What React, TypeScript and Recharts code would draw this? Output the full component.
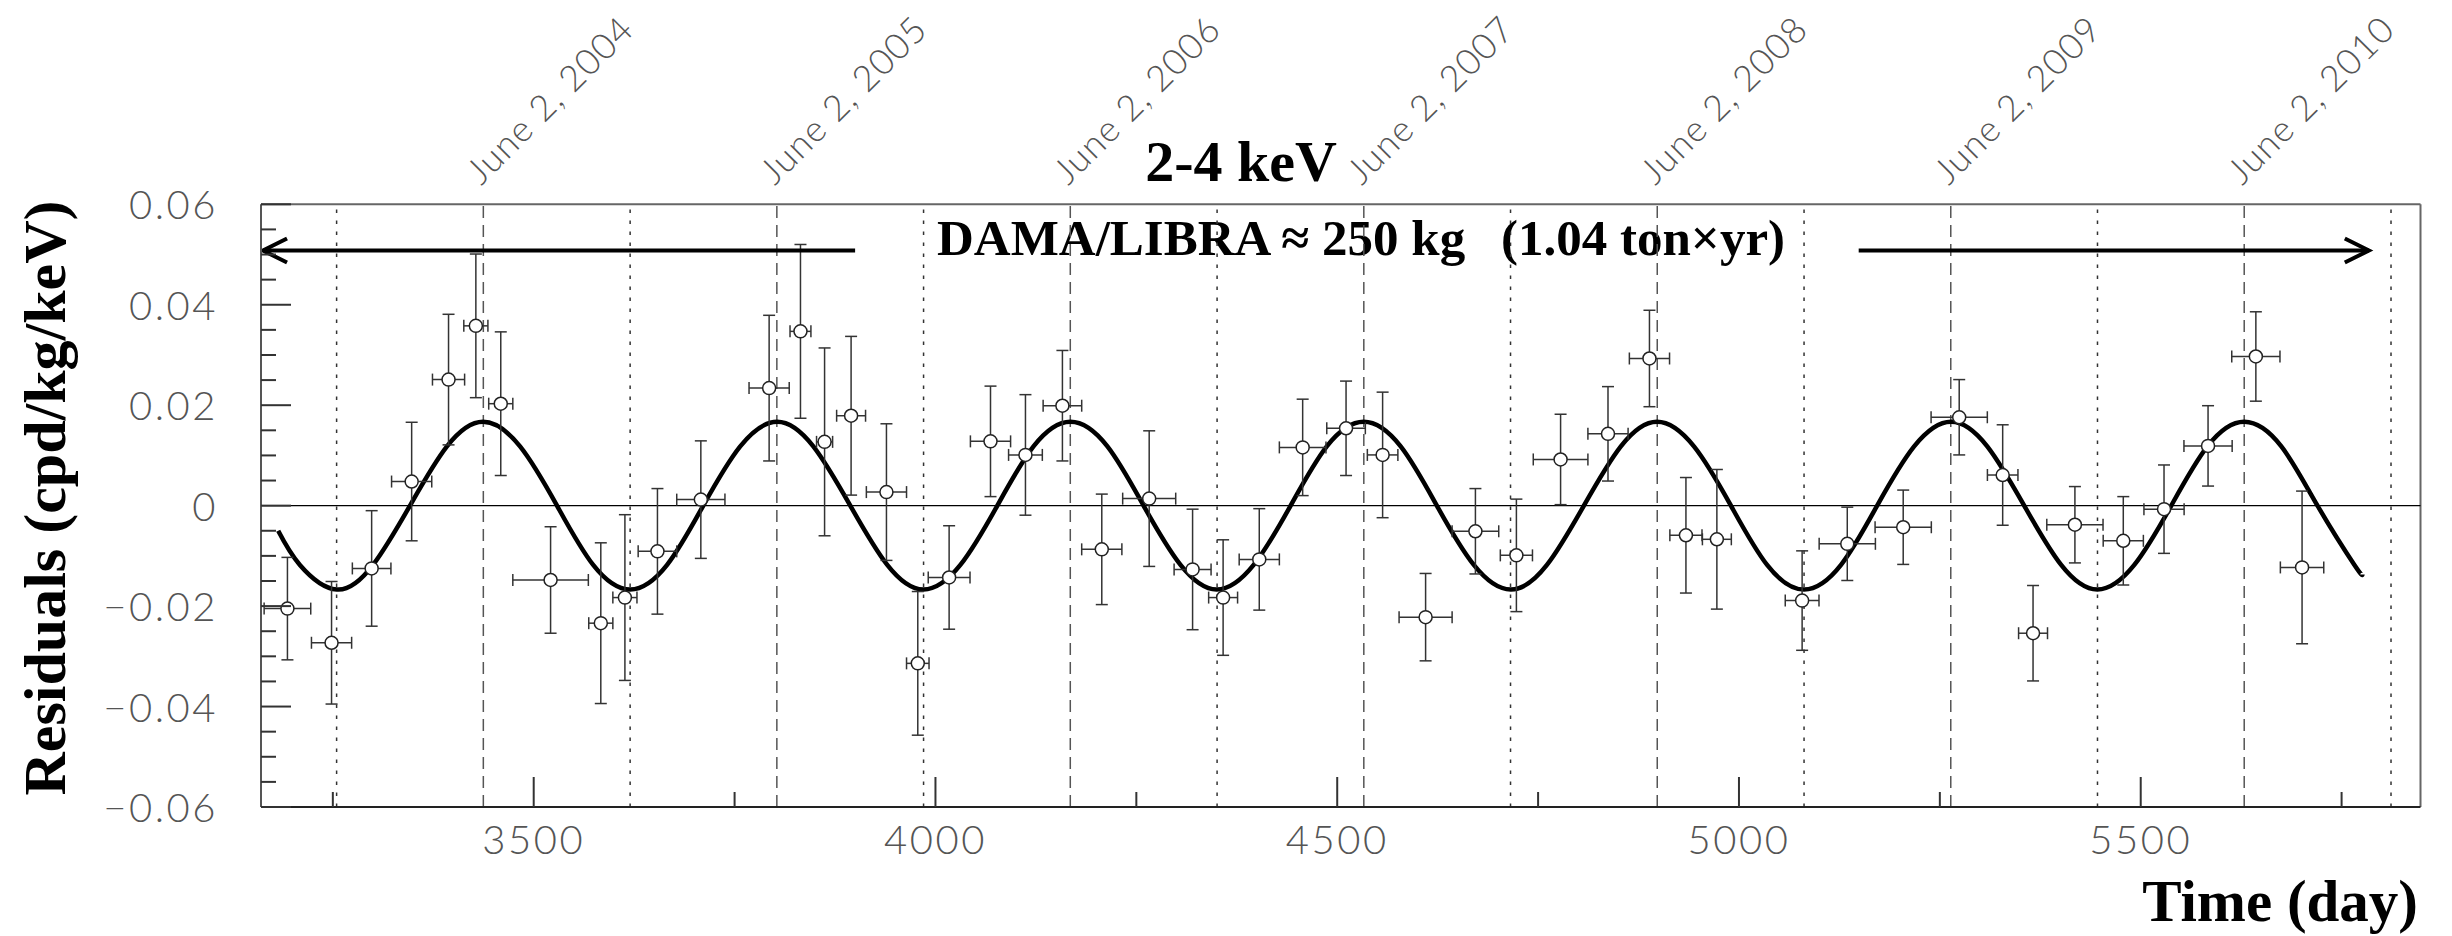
import React from 'react';
import {
  ComposedChart,
  XAxis,
  YAxis,
  Scatter,
  Line,
  ErrorBar,
  ReferenceLine,
  Customized,
} from 'recharts';

// ---------- data ----------
const days = [
  3193.5, 3248.4, 3298.3, 3348.1, 3394, 3428, 3459, 3521, 3583.5, 3613.5, 3654, 3708, 3793, 3832,
  3862, 3895, 3939, 3978, 4017, 4068.5, 4112, 4158, 4207, 4266, 4320, 4358, 4403, 4457, 4511,
  4556.5, 4610, 4672, 4723, 4778, 4837,
  4888.6, 4934, 4972.5, 5078.6, 5134.8, 5204.4, 5274.1, 5328.2, 5366, 5418.1, 5478.3, 5529,
  5583.8, 5643.3, 5700.8,
];
const residuals = [
  -0.0205, -0.0273, -0.0125, 0.0048, 0.0251, 0.0358, 0.0203, -0.0148, -0.0234, -0.0183, -0.0091,
  0.0012, 0.0234, 0.0347,
  0.0127, 0.0179, 0.0027, -0.0314, -0.0143, 0.0128, 0.0101, 0.0199, -0.0087, 0.0014, -0.0127,
  -0.0183, -0.0107, 0.0116, 0.0154, 0.0101, -0.0222, -0.0051, -0.0099, 0.0092, 0.0143,
  0.0293, -0.0059, -0.0067, -0.0189, -0.0076, -0.0043, 0.0176, 0.0061, -0.0254, -0.0038, -0.007,
  -0.0007, 0.0119, 0.0297, -0.0123,
];
const dayErrors = [
  29, 25, 24, 25, 20, 15, 15, 47, 15, 15, 24, 30, 25, 13,
  10, 18, 25, 14, 26, 25, 21, 24, 25, 33, 23, 18, 25, 29, 24, 19, 33, 29, 20, 34, 25,
  25, 20, 18, 21, 35, 35, 35, 19, 18, 35, 25, 25, 30, 30, 27,
];
const residualErrors = [
  0.0102, 0.0122, 0.0115, 0.0118, 0.013, 0.0143, 0.0143, 0.0106, 0.016, 0.0165, 0.0125, 0.0117,
  0.0145, 0.0173,
  0.0187, 0.0158, 0.0136, 0.0143, 0.0103, 0.011, 0.012, 0.011, 0.011, 0.0135, 0.012, 0.0115,
  0.0101, 0.0096, 0.0094, 0.0125, 0.0087, 0.0085, 0.0112, 0.009, 0.0094,
  0.0096, 0.0115, 0.0139, 0.0099, 0.0073, 0.0074, 0.0075, 0.01, 0.0095, 0.0076, 0.0088, 0.0088,
  0.008, 0.0089, 0.0152,
];

// fitted modulation curve
const fitDays = [
  3182, 3209, 3255, 3300, 3346, 3392, 3437, 3483, 3529, 3574, 3620, 3666, 3711, 3757, 3803, 3848,
  3894, 3940, 3985, 4031, 4077, 4122, 4168, 4214, 4259, 4305, 4350, 4396, 4442, 4487, 4533, 4579,
  4624, 4670, 4716, 4761, 4807, 4853, 4898, 4944, 4990, 5035, 5081, 5127, 5172, 5218, 5264, 5309,
  5355, 5401, 5446, 5492, 5538, 5583, 5629, 5675, 5720, 5766, 5776,
];
const fitValues = [
  -0.005, -0.0118, -0.0167, -0.0118, 0, 0.0118, 0.0167, 0.0118, 0, -0.0118, -0.0167, -0.0118, 0,
  0.0118, 0.0167, 0.0118, 0, -0.0118, -0.0167, -0.0118, 0, 0.0118, 0.0167, 0.0118, 0, -0.0118,
  -0.0167, -0.0118, 0, 0.0118, 0.0167, 0.0118, 0, -0.0118, -0.0167, -0.0118, 0, 0.0118, 0.0167,
  0.0118, 0, -0.0118, -0.0167, -0.0118, 0, 0.0118, 0.0167, 0.0118, 0, -0.0118, -0.0167, -0.0118,
  0, 0.0118, 0.0167, 0.0118, 0, -0.0118, -0.0137,
];

const juneDays = [3437.3, 3802.6, 4167.8, 4533.1, 4898.3, 5263.6, 5628.8];
const juneLabels = [
  'June 2, 2004', 'June 2, 2005', 'June 2, 2006', 'June 2, 2007', 'June 2, 2008', 'June 2, 2009',
  'June 2, 2010',
];
const decemberDays = [3254.7, 3620, 3985.2, 4350.5, 4715.7, 5081, 5446.2, 5811.5];

const xTicks = [3250, 3500, 3750, 4000, 4250, 4500, 4750, 5000, 5250, 5500, 5750];
const yTicks = [
  -0.06, -0.055, -0.05, -0.045, -0.04, -0.035, -0.03, -0.025, -0.02, -0.015, -0.01, -0.005, 0,
  0.005, 0.01, 0.015, 0.02, 0.025, 0.03, 0.035, 0.04, 0.045, 0.05, 0.055, 0.06,
];
const yTickLabels = ['\u22120.06', '\u22120.04', '\u22120.02', '0', '0.02', '0.04', '0.06'];
const yLabelledTicks = [-0.06, -0.04, -0.02, 0, 0.02, 0.04, 0.06];

const arrowY = 0.0508;
const arrowLeftDays = [3163, 3900];
const arrowRightDays = [5149, 5784];
const arrowHeadDays = 30;
const arrowHeadHalf = 0.0024;

const X_DOMAIN: [number, number] = [3160.6, 5848.2];
const Y_DOMAIN: [number, number] = [-0.06, 0.06];

// ---------- derived tables ----------
const points = days.map((d, i) => ({ x: d, y: residuals[i], ex: dayErrors[i], ey: residualErrors[i] }));
const fitCurve = fitDays.map((d, i) => ({ x: d, y: fitValues[i] }));
const leftShaft = arrowLeftDays.map((d) => ({ x: d, y: arrowY }));
const rightShaft = arrowRightDays.map((d) => ({ x: d, y: arrowY }));
const leftHead = [
  { x: arrowLeftDays[0] + arrowHeadDays, y: arrowY + arrowHeadHalf },
  { x: arrowLeftDays[0], y: arrowY },
  { x: arrowLeftDays[0] + arrowHeadDays, y: arrowY - arrowHeadHalf },
];
const rightHead = [
  { x: arrowRightDays[1] - arrowHeadDays, y: arrowY + arrowHeadHalf },
  { x: arrowRightDays[1], y: arrowY },
  { x: arrowRightDays[1] - arrowHeadDays, y: arrowY - arrowHeadHalf },
];

const THIN = "Lato, 'Open Sans', sans-serif";
const SERIF = "'Liberation Serif', 'Times New Roman', serif";

const XTick = (props: any) => {
  const { x, y, payload } = props;
  const v = payload.value;
  const major = v % 500 === 0;
  return (
    <g>
      <line x1={x} x2={x} y1={y} y2={y - (major ? 30 : 15)} stroke="#333" strokeWidth={2} />
      {major && (
        <text x={x} y={y + 47} textAnchor="middle" fontFamily={THIN} fontWeight={300} fontSize={40}
          letterSpacing={2.5} fill="#555">
          {v}
        </text>
      )}
    </g>
  );
};

const YTick = (props: any) => {
  const { x, y, payload } = props;
  const v = payload.value;
  const idx = yLabelledTicks.findIndex((t) => Math.abs(t - v) < 1e-9);
  const major = idx >= 0;
  return (
    <g>
      <line x1={x} x2={x + (major ? 30 : 15)} y1={y} y2={y} stroke="#333" strokeWidth={2} />
      {major && (
        <text x={x - 43} y={y + 15} textAnchor="end" fontFamily={THIN} fontWeight={300} fontSize={40}
          letterSpacing={2.5} fill="#555">
          {yTickLabels[idx]}
        </text>
      )}
    </g>
  );
};

const dateLabel = (text: string) => (props: any) => {
  const vb = props && props.viewBox;
  if (!vb) return null;
  const x = vb.x - 2;
  const y = vb.y - 18;
  return (
    <text x={x} y={y} transform={`rotate(-45 ${x} ${y})`} fontFamily={THIN} fontWeight={300}
      fontSize={36} letterSpacing={1.2} fill="#555">
      {text}
    </text>
  );
};

const Texts = () => (
  <g>
    <text x={1241} y={181} textAnchor="middle" fontFamily={SERIF} fontWeight="bold" fontSize={58} fill="#000">
      2-4 keV
    </text>
    <text x={937} y={255} textAnchor="start" fontFamily={SERIF} fontWeight="bold" fontSize={51} fill="#000">
      DAMA/LIBRA ≈ 250 kg
    </text>
    <text x={1785} y={255} textAnchor="end" fontFamily={SERIF} fontWeight="bold" fontSize={51} fill="#000">
      (1.04 ton×yr)
    </text>
    <text x={65} y={498} textAnchor="middle" transform="rotate(-90 65 498)" fontFamily={SERIF}
      fontWeight="bold" fontSize={60} fill="#000">
      Residuals (cpd/kg/keV)
    </text>
    <text x={2418} y={921} textAnchor="end" fontFamily={SERIF} fontWeight="bold" fontSize={59} fill="#000">
      Time (day)
    </text>
  </g>
);

const Marker = (props: any) => (
  <circle cx={props.cx} cy={props.cy} r={6.5} fill="#fff" stroke="#222" strokeWidth={1.5} />
);

export default function App() {
  return (
    <div style={{ position: 'absolute', left: 0, top: 0, width: 2452, height: 936, background: '#fff' }}>
      <ComposedChart width={2452} height={936} margin={{ top: 204.3, right: 31.5, bottom: 0, left: 0 }}>
        <XAxis
          dataKey="x"
          type="number"
          domain={X_DOMAIN}
          allowDataOverflow
          ticks={xTicks}
          interval={0}
          height={129}
          tickSize={0}
          tickMargin={0}
          tickLine={false}
          axisLine={{ stroke: '#222', strokeWidth: 2 }}
          tick={<XTick />}
        />
        <YAxis
          dataKey="y"
          type="number"
          domain={Y_DOMAIN}
          allowDataOverflow
          ticks={yTicks}
          interval={0}
          width={261}
          tickSize={0}
          tickMargin={0}
          tickLine={false}
          axisLine={{ stroke: '#555', strokeWidth: 2 }}
          tick={<YTick />}
        />
        <ReferenceLine y={Y_DOMAIN[1]} stroke="#666" strokeWidth={2} />
        <ReferenceLine x={X_DOMAIN[1]} stroke="#666" strokeWidth={2} />
        {decemberDays.map((d) => (
          <ReferenceLine key={'dec' + d} x={d} stroke="#333" strokeWidth={1.5} strokeDasharray="3.5 7.5" />
        ))}
        {juneDays.map((d, i) => (
          <ReferenceLine key={'jun' + d} x={d} stroke="#555" strokeWidth={1.5} strokeDasharray="12 7"
            label={dateLabel(juneLabels[i])} />
        ))}
        <ReferenceLine y={0} stroke="#000" strokeWidth={1.3} />
        <Line data={fitCurve} dataKey="y" type="natural" stroke="#000" strokeWidth={4.5} dot={false}
          activeDot={false} isAnimationActive={false} />
        <Scatter data={points} dataKey="y" shape={<Marker />} isAnimationActive={false}>
          <ErrorBar dataKey="ex" direction="x" width={6} stroke="#333" strokeWidth={1.5} isAnimationActive={false} />
          <ErrorBar dataKey="ey" direction="y" width={6} stroke="#333" strokeWidth={1.5} isAnimationActive={false} />
        </Scatter>
        <Line data={leftShaft} dataKey="y" type="linear" stroke="#000" strokeWidth={4} dot={false}
          activeDot={false} isAnimationActive={false} />
        <Line data={rightShaft} dataKey="y" type="linear" stroke="#000" strokeWidth={4} dot={false}
          activeDot={false} isAnimationActive={false} />
        <Line data={leftHead} dataKey="y" type="linear" stroke="#000" strokeWidth={4} dot={false}
          activeDot={false} isAnimationActive={false} />
        <Line data={rightHead} dataKey="y" type="linear" stroke="#000" strokeWidth={4} dot={false}
          activeDot={false} isAnimationActive={false} />
        <Customized component={<Texts />} />
      </ComposedChart>
    </div>
  );
}
